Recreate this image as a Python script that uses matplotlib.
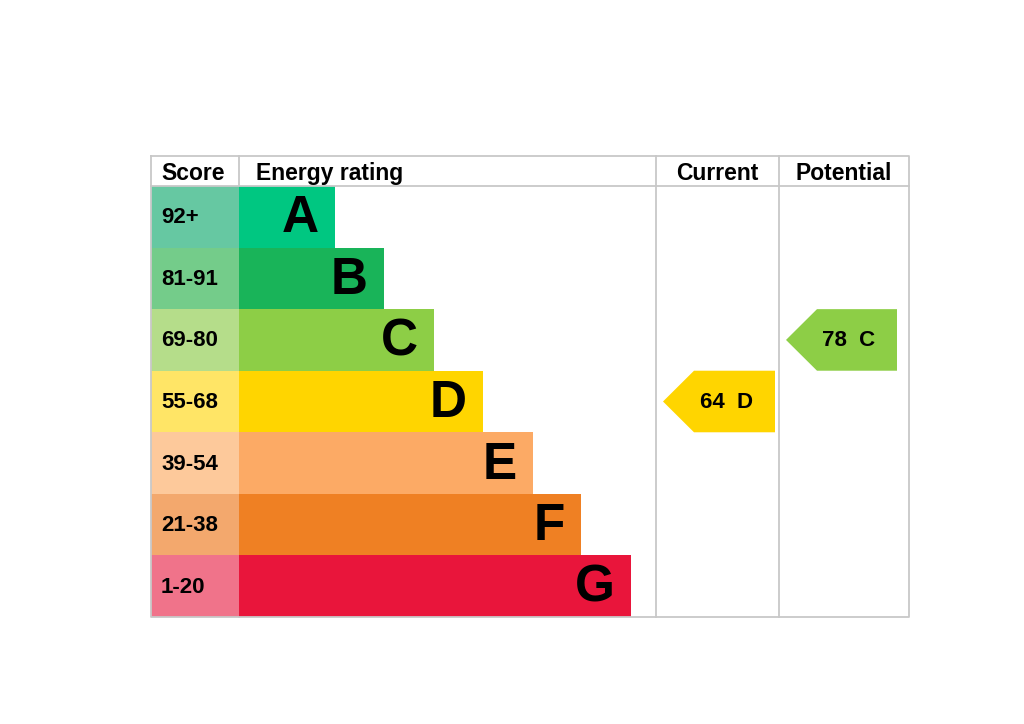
import matplotlib.pyplot as plt
from matplotlib.patches import Rectangle, Polygon

plt.rcParams['font.family'] = ['Liberation Sans', 'DejaVu Sans']

bands = ['A', 'B', 'C', 'D', 'E', 'F', 'G']
scores = ['92+', '81-91', '69-80', '55-68', '39-54', '21-38', '1-20']
bar_ends = [335, 384, 434, 483, 533, 581, 631]
bar_colors = ['#00c781', '#19b459', '#8dce46', '#ffd500', '#fcaa65', '#ef8023', '#e9153b']
score_colors = ['#66c8a2', '#74cc8a', '#b5dd8a', '#ffe566', '#fdc99b', '#f3a86d', '#f0738a']

current_value, current_band = 64, 'D'
potential_value, potential_band = 78, 'C'

fig = plt.figure(figsize=(10.24, 7.24), dpi=100)
ax = fig.add_axes([0, 0, 1, 1])
ax.set_xlim(0, 1024)
ax.set_ylim(724, 0)
ax.axis('off')

left, right = 151, 909
top, head = 156, 186
row_h = (617 - head) / len(bands)
bottom = head + row_h * len(bands)
c_score, c_rate, c_cur, c_pot = 239, 656, 779, 909
grid = '#c8c8c8'

# rows
for i, b in enumerate(bands):
    y0 = head + i * row_h
    ax.add_patch(Rectangle((left, y0), c_score - left, row_h, color=score_colors[i], lw=0))
    ax.add_patch(Rectangle((c_score, y0), bar_ends[i] - c_score, row_h, color=bar_colors[i], lw=0))
    ax.text(161, y0 + row_h / 2 + 1, scores[i], fontsize=16, fontweight='bold', va='center', ha='left')
    ax.text(bar_ends[i] - 16, y0 + row_h / 2 + 2, b, fontsize=37, fontweight='bold', va='center', ha='right')

# grid lines
ax.plot([left, right, right, left, left], [top, top, bottom, bottom, top], color=grid, lw=1.3)
ax.plot([left, right], [head, head], color=grid, lw=1.3)
for x in [c_score, c_rate, c_cur]:
    ax.plot([x, x], [top, bottom], color=grid, lw=1.3, zorder=0)

# headers
hy = 180
ax.text(161, hy, 'Score', fontsize=16.5, fontweight='bold', va='baseline', ha='left')
ax.text(256, hy, 'Energy rating', fontsize=16.5, fontweight='bold', va='baseline', ha='left')
ax.text((c_rate + c_cur) / 2, hy, 'Current', fontsize=16.5, fontweight='bold', va='baseline', ha='center')
ax.text((c_cur + c_pot) / 2, hy, 'Potential', fontsize=16.5, fontweight='bold', va='baseline', ha='center')


def arrow(x_tip, x_right, band, value):
    i = bands.index(band)
    y0 = head + i * row_h
    y1 = y0 + row_h
    ym = (y0 + y1) / 2
    pts = [(x_tip, ym), (x_tip + 31, y0), (x_right, y0), (x_right, y1), (x_tip + 31, y1)]
    ax.add_patch(Polygon(pts, closed=True, color=bar_colors[i], lw=0))
    ax.text((x_tip + 31 + x_right) / 2 - 8, ym + 1, f'{value}  {band}', fontsize=16,
            fontweight='bold', va='center', ha='center')


arrow(663, 775, current_band, current_value)
arrow(786, 897, potential_band, potential_value)

fig.savefig('out.png', dpi=100)
